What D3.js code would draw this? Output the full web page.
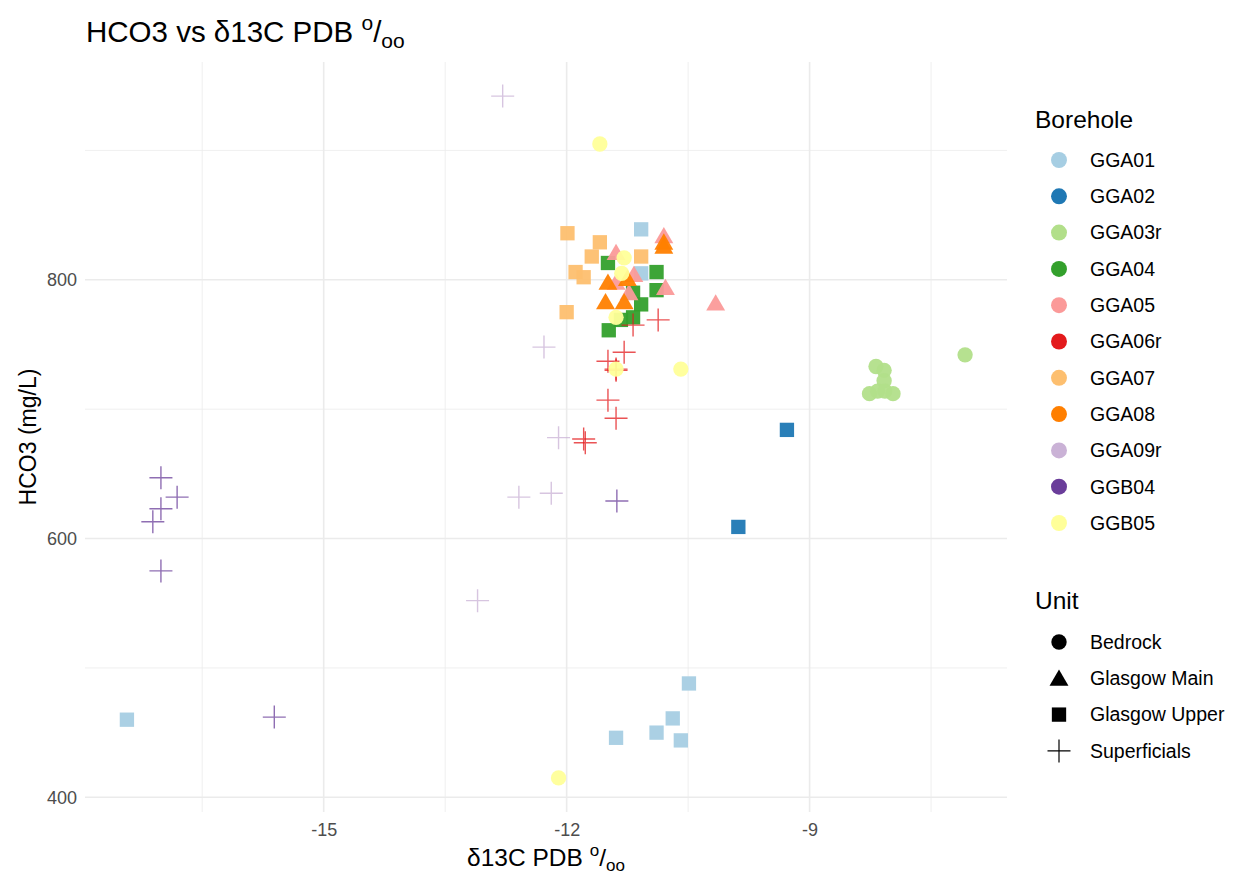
<!DOCTYPE html>
<html>
<head>
<meta charset="utf-8">
<script src="https://cdn.jsdelivr.net/npm/d3@7"></script>
<style>
  html, body { margin: 0; padding: 0; background: #ffffff; }
  svg { display: block; font-family: "Liberation Sans", Arial, sans-serif; }
</style>
</head>
<body>
<svg id="chart" width="1236" height="877"></svg>
<script>
// ---------------- DATA ----------------
const boreholes = ["GGA01","GGA02","GGA03r","GGA04","GGA05","GGA06r","GGA07","GGA08","GGA09r","GGB04","GGB05"];
const units = ["Bedrock","Glasgow Main","Glasgow Upper","Superficials"];
const boreholeUnit = ["Glasgow Upper","Glasgow Upper","Bedrock","Glasgow Upper","Glasgow Main","Superficials","Glasgow Upper","Glasgow Main","Superficials","Superficials","Bedrock"];
const xTicks = [-15, -12, -9];
const yTicks = [400, 600, 800];

// [d13C PDB, HCO3 mg/L]
const GGA01  = [[-17.43,460],[-11.39,446],[-10.89,450],[-10.69,461],[-10.59,444],[-10.49,488],[-11.08,839],[-11.08,805]];
const GGA02  = [[-9.28,684],[-9.88,609]];
const GGA03r = [[-8.18,733],[-8.08,730],[-8.08,722],[-8.26,712],[-8.16,714],[-8.07,714],[-7.97,712],[-7.08,742]];
const GGA04  = [[-11.49,813],[-10.89,806],[-10.89,792],[-11.18,790],[-11.08,781],[-11.18,771],[-11.48,761],[-11.33,769]];
const GGA05  = [[-10.80,834],[-10.16,782],[-10.78,794],[-11.39,821],[-11.17,804],[-11.39,798],[-11.23,790]];
const GGA06r = [[-10.87,769],[-11.18,765],[-11.29,744],[-11.49,737],[-11.39,731],[-11.39,730],[-11.49,707],[-11.39,693],[-11.79,677],[-11.77,674]];
const GGA07  = [[-11.99,836],[-11.59,829],[-11.69,818],[-11.89,806],[-11.79,802],[-11.08,818],[-12.00,775]];
const GGA08  = [[-10.80,829],[-10.80,826],[-11.49,798],[-11.25,801],[-11.52,783],[-11.29,783]];
const GGA09r = [[-12.79,942],[-12.28,748],[-12.10,678],[-12.59,632],[-12.19,635],[-13.10,552]];
const GGB04  = [[-17.01,647],[-16.81,632],[-17.01,623],[-17.11,613],[-17.01,575],[-15.61,462],[-11.38,629]];
const GGB05  = [[-11.59,905],[-12.10,415],[-10.59,731],[-11.39,731],[-11.39,771],[-11.29,817],[-11.32,805]];
const seriesData = [GGA01,GGA02,GGA03r,GGA04,GGA05,GGA06r,GGA07,GGA08,GGA09r,GGB04,GGB05];

// ---------------- STYLE ----------------
const palette = ["#A6CEE3","#1F78B4","#B2DF8A","#33A02C","#FB9A99","#E31A1C","#FDBF6F","#FF7F00","#CAB2D6","#6A3D9A","#FFFF99"];
const panel = {left: 85, right: 1007, top: 62, bottom: 812};

const svg = d3.select("#chart");

const points = [];
seriesData.forEach((arr, i) => arr.forEach(p => points.push({x: p[0], y: p[1], b: boreholes[i], u: boreholeUnit[i]})));

function expand(ext, f) { const d = ext[1]-ext[0]; return [ext[0]-d*f, ext[1]+d*f]; }
const x = d3.scaleLinear().domain(expand(d3.extent(points, d => d.x), 0.05)).range([panel.left, panel.right]);
const y = d3.scaleLinear().domain(expand(d3.extent(points, d => d.y), 0.05)).range([panel.bottom, panel.top]);
const color = d3.scaleOrdinal().domain(boreholes).range(palette);

// grid
const g = svg.append("g");
const xMinor = [-16.5, -13.5, -10.5, -7.5];
const yMinor = [500, 700, 900];
g.selectAll(".xm").data(xMinor).enter().append("line")
  .attr("x1", d => x(d)).attr("x2", d => x(d)).attr("y1", panel.top).attr("y2", panel.bottom)
  .attr("stroke", "#EBEBEB").attr("stroke-width", 0.8);
g.selectAll(".ym").data(yMinor).enter().append("line")
  .attr("y1", d => y(d)).attr("y2", d => y(d)).attr("x1", panel.left).attr("x2", panel.right)
  .attr("stroke", "#EBEBEB").attr("stroke-width", 0.8);
g.selectAll(".xM").data(xTicks).enter().append("line")
  .attr("x1", d => x(d)).attr("x2", d => x(d)).attr("y1", panel.top).attr("y2", panel.bottom)
  .attr("stroke", "#EBEBEB").attr("stroke-width", 1.6);
g.selectAll(".yM").data(yTicks).enter().append("line")
  .attr("y1", d => y(d)).attr("y2", d => y(d)).attr("x1", panel.left).attr("x2", panel.right)
  .attr("stroke", "#EBEBEB").attr("stroke-width", 1.6);

// axes (text only)
const xAxis = d3.axisBottom(x).tickValues(xTicks).tickSize(0).tickPadding(0).tickFormat(d3.format("d"));
const xa = svg.append("g").attr("transform", `translate(0,${panel.bottom + 11})`).call(xAxis);
xa.select(".domain").remove();
xa.selectAll("text").attr("font-size", 18).attr("fill", "#4D4D4D").attr("dy", "0.71em")
  .attr("font-family", "Liberation Sans, Arial, sans-serif").text(d => String(d));

const yAxis = d3.axisLeft(y).tickValues(yTicks).tickSize(0).tickPadding(0);
const ya = svg.append("g").attr("transform", `translate(${panel.left - 8},0)`).call(yAxis);
ya.select(".domain").remove();
ya.selectAll("text").attr("font-size", 18).attr("fill", "#4D4D4D")
  .attr("font-family", "Liberation Sans, Arial, sans-serif");

// symbols
const shapeFor = {
  "Bedrock": d3.symbol().type(d3.symbolCircle).size(185),
  "Glasgow Main": d3.symbol().type(d3.symbolTriangle).size(155),
  "Glasgow Upper": d3.symbol().type(d3.symbolSquare).size(205)
};
const crossPath = "M-11.5,0H11.5M0,-11.5V11.5";

const pg = svg.append("g");
points.forEach(p => {
  const t = `translate(${x(p.x)},${y(p.y)})`;
  if (p.u === "Superficials") {
    pg.append("path").attr("d", crossPath).attr("transform", t)
      .attr("stroke", color(p.b)).attr("stroke-width", 1.4).attr("fill", "none").attr("stroke-opacity", 0.75);
  } else {
    const off = p.u === "Glasgow Main" ? 2 : 0;
    pg.append("path").attr("d", shapeFor[p.u]()).attr("transform", `translate(${x(p.x)},${y(p.y)+off})`)
      .attr("fill", color(p.b)).attr("fill-opacity", 0.95);
  }
});

// title
const title = svg.append("text").attr("x", 86).attr("y", 42).attr("font-size", 29.5).attr("fill", "#000");
title.append("tspan").text("HCO3 vs δ13C PDB ");
title.append("tspan").attr("font-size", 21).attr("dy", -12).text("o");
title.append("tspan").attr("dy", 12).text("/");
title.append("tspan").attr("font-size", 21).attr("dy", 6).text("oo");

// x axis title
const xt = svg.append("text").attr("x", (panel.left + panel.right)/2).attr("y", 866)
  .attr("text-anchor", "middle").attr("font-size", 24.5).attr("fill", "#000");
xt.append("tspan").text("δ13C PDB ");
xt.append("tspan").attr("font-size", 17).attr("dy", -10).text("o");
xt.append("tspan").attr("dy", 10).text("/");
xt.append("tspan").attr("font-size", 17).attr("dy", 5).text("oo");

// y axis title
svg.append("text").attr("transform", `translate(36,${(panel.top + panel.bottom)/2}) rotate(-90)`)
  .attr("text-anchor", "middle").attr("font-size", 23).attr("fill", "#000").text("HCO3 (mg/L)");

// legends
const lx = 1035;
svg.append("text").attr("x", lx).attr("y", 128).attr("font-size", 24.5).attr("fill", "#000").text("Borehole");
const lb = svg.append("g");
boreholes.forEach((b, i) => {
  const cy = 160 + i * 36.3;
  lb.append("path").attr("d", d3.symbol().type(d3.symbolCircle).size(200)())
    .attr("transform", `translate(1059,${cy})`).attr("fill", color(b));
  lb.append("text").attr("x", 1090).attr("y", cy).attr("dy", "0.35em").attr("font-size", 19.5).attr("fill", "#000").text(b);
});

svg.append("text").attr("x", lx).attr("y", 609).attr("font-size", 24.5).attr("fill", "#000").text("Unit");
const lu = svg.append("g");
units.forEach((u, i) => {
  const cy = 642 + i * 36.3;
  if (u === "Superficials") {
    lu.append("path").attr("d", crossPath).attr("transform", `translate(1059,${cy})`)
      .attr("stroke", "#000").attr("stroke-width", 1.2).attr("fill", "none");
  } else {
    const off = u === "Glasgow Main" ? 2 : 0;
    lu.append("path").attr("d", shapeFor[u]()).attr("transform", `translate(1059,${cy+off})`).attr("fill", "#000");
  }
  lu.append("text").attr("x", 1090).attr("y", cy).attr("dy", "0.35em").attr("font-size", 19.5).attr("fill", "#000").text(u);
});
</script>
</body>
</html>
